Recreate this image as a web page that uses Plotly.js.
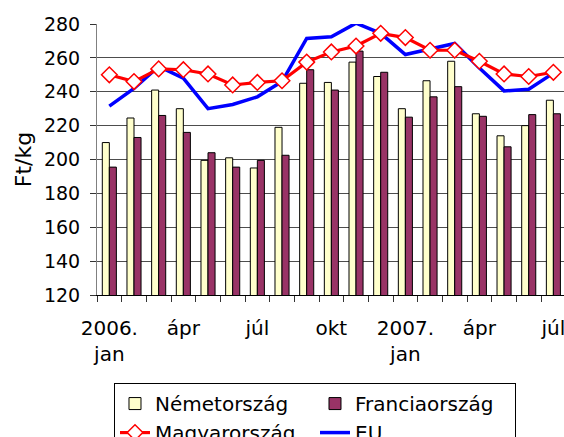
<!DOCTYPE html>
<html>
<head>
<meta charset="utf-8">
<script src="https://cdn.plot.ly/plotly-3.0.1.min.js"></script>
<style>html,body{margin:0;padding:0;background:#fff;}#chart{width:564px;height:437px;}</style>
</head>
<body>
<div id="chart"></div>
<script>
// Months 2006 jan .. 2007 jul
const months = ['2006-01','2006-02','2006-03','2006-04','2006-05','2006-06','2006-07','2006-08','2006-09','2006-10','2006-11','2006-12','2007-01','2007-02','2007-03','2007-04','2007-05','2007-06','2007-07'];
const tickIdx = [0, 3, 6, 9, 12, 15, 18];
const tickLabels = ['2006.<br>jan', 'ápr', 'júl', 'okt', '2007.<br>jan', 'ápr', 'júl'];

const nemetorszag   = [210, 224.5, 241, 230, 199.5, 201, 195, 219, 245, 245.5, 257.5, 249, 230, 246.5, 258, 227, 214, 220, 235];
const franciaorszag = [195.5, 213, 226, 216, 204, 195.5, 199.5, 202.5, 253, 241, 264, 251.5, 225, 237, 243, 225.5, 207.5, 226.5, 227];
const magyarorszag  = [250, 246, 253.5, 253, 250.5, 244, 245.5, 246.5, 257.5, 263.5, 267, 274.5, 272, 264.5, 264.5, 258, 250.5, 249, 251.5];
const eu            = [231.5, 242, 255, 248, 230, 232.5, 237, 246, 271.5, 272.5, 280.5, 274.5, 262, 265, 268.5, 254, 240.5, 241.5, 251];

const xs = months.map((m, i) => i);

const traces = [
  {type: 'bar', name: 'Németország', x: xs, y: nemetorszag, legendrank: 1,
   marker: {color: '#FFFFCC', line: {color: '#000000', width: 1}}},
  {type: 'bar', name: 'Franciaország', x: xs, y: franciaorszag, legendrank: 2,
   marker: {color: '#993366', line: {color: '#000000', width: 1}}},
  {type: 'scatter', mode: 'lines', name: 'EU', x: xs, y: eu, legendrank: 4, cliponaxis: false,
   line: {color: '#0000FF', width: 3.5}},
  {type: 'scatter', mode: 'lines+markers', name: 'Magyarország', x: xs, y: magyarorszag, legendrank: 3, cliponaxis: false,
   line: {color: '#FF0000', width: 3.2},
   marker: {symbol: 'diamond', size: 12, color: '#FFFFFF', line: {color: '#FF0000', width: 1.5}}}
];

const layout = {
  width: 564, height: 437,
  margin: {l: 97, r: 0, t: 24, b: 142, autoexpand: false},
  paper_bgcolor: '#FFFFFF', plot_bgcolor: '#FFFFFF',
  font: {family: 'DejaVu Sans', color: '#000000', size: 19},
  barmode: 'group', bargap: 0.43, bargroupgap: 0,
  showlegend: true,
  xaxis: {
    type: 'linear', range: [-0.5, 18.43], automargin: false,
    tickmode: 'array', tickvals: tickIdx, ticktext: tickLabels,
    ticks: '', showgrid: false, zeroline: false,
    showline: true, linecolor: '#000000', linewidth: 1,
    tickfont: {size: 20}, ticklabelstandoff: 15, ticklabeloverflow: 'allow',
    minor: {tickmode: 'linear', tick0: -0.5, dtick: 1, ticks: 'outside', ticklen: 6, tickcolor: '#333333', tickwidth: 1, showgrid: false}
  },
  yaxis: {
    range: [120, 280], tick0: 120, dtick: 20, automargin: false,
    showgrid: true, gridcolor: '#4d4d4d', gridwidth: 1, zeroline: false,
    showline: true, linecolor: '#808080', linewidth: 1,
    ticks: 'outside', ticklen: 6, tickcolor: '#333333',
    tickfont: {size: 19}, ticklabelstandoff: 6,
    title: {text: 'Ft/kg', font: {size: 22}, standoff: 6}
  },
  legend: {
    orientation: 'h', x: 0.0364, xanchor: 'left', y: -0.325, yanchor: 'top',
    bgcolor: '#FFFFFF', bordercolor: '#000000', borderwidth: 1,
    font: {size: 20}, entrywidth: 155, entrywidthmode: 'pixels', traceorder: 'normal'
  }
};

Plotly.newPlot('chart', traces, layout, {displayModeBar: false, staticPlot: true});
</script>
</body>
</html>
